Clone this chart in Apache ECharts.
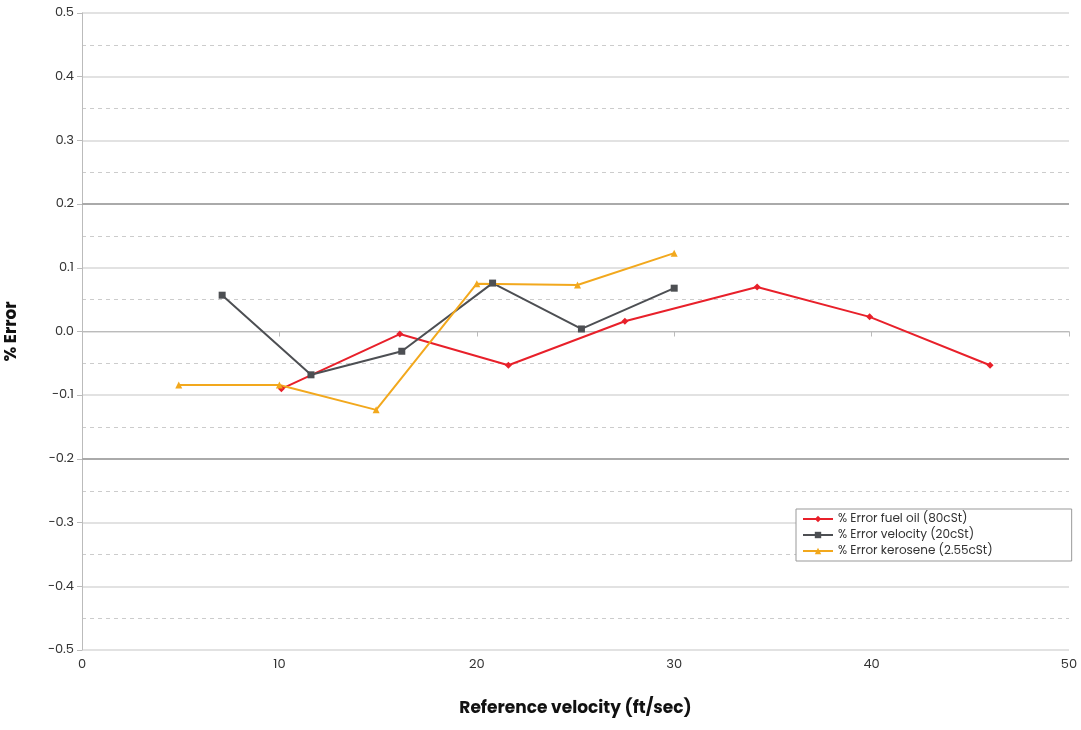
<!DOCTYPE html><html><head><meta charset="utf-8"><script src="https://cdn.jsdelivr.net/npm/echarts@6/dist/echarts.min.js"></script>
<style>html,body{margin:0;background:#fff}#c{width:1081px;height:730px}</style></head><body><div id="c"></div><script>
const fuelOil=[[10.1,-0.09],[16.1,-0.004],[21.6,-0.053],[27.5,0.016],[34.2,0.07],[39.9,0.023],[46.0,-0.053]];
const velocity20=[[7.1,0.057],[11.6,-0.068],[16.2,-0.031],[20.8,0.076],[25.3,0.004],[30.0,0.068]];
const kerosene=[[4.9,-0.084],[10.0,-0.084],[14.9,-0.123],[20.0,0.075],[25.1,0.073],[30.0,0.123]];
const names=['% Error fuel oil (80cSt)','% Error velocity (20cSt)','% Error kerosene (2.55cSt)'];
const F='Poppins, Inter, "Noto Sans", sans-serif';
const fmt=v=>{const s=v.toFixed(1);return s.startsWith('-')?'\u2212'+s.slice(1):s;};
const ch=echarts.init(document.getElementById('c'));
ch.setOption({
 animation:false,
 grid:{left:82,right:12,top:13,bottom:80,containLabel:false,outerBoundsMode:'none'},
 legend:{orient:'vertical',left:796,top:509,itemWidth:30,itemHeight:8,itemGap:4,padding:[4,79,4,6],
   borderColor:'#999',borderWidth:1,backgroundColor:'#fff',
   textStyle:{fontFamily:F,fontSize:12,color:'#333'},data:names},
 xAxis:{type:'value',min:0,max:50,interval:10,name:'Reference velocity (ft/sec)',nameLocation:'middle',nameGap:50,
   nameTextStyle:{fontFamily:F,fontSize:17,fontWeight:'bold',color:'#111'},
   axisLine:{show:true,lineStyle:{color:'#bbb'}},axisTick:{show:true,length:5,lineStyle:{color:'#bbb'}},
   axisLabel:{fontFamily:F,fontSize:13,color:'#333'},splitLine:{show:false}},
 yAxis:{type:'value',min:-0.5,max:0.5,interval:0.1,name:'% Error',nameLocation:'middle',nameGap:62,
   nameTextStyle:{fontFamily:F,fontSize:17,fontWeight:'bold',color:'#111'},
   axisLine:{show:true,lineStyle:{color:'#bbb'}},axisTick:{show:true,length:5,lineStyle:{color:'#bbb'}},
   axisLabel:{fontFamily:F,fontSize:13,color:'#333',formatter:fmt},
   splitLine:{lineStyle:{color:'#d9d9d9',width:1.5}},
   minorTick:{show:false,splitNumber:2},minorSplitLine:{show:true,lineStyle:{color:'#ccc',type:[4,4]}}},
 series:[
  {name:names[0],type:'line',data:fuelOil,symbol:'diamond',symbolSize:7,color:'#e8202a',lineStyle:{width:2},
   markLine:{silent:true,symbol:'none',label:{show:false},lineStyle:{color:'#aaa',type:'solid',width:2},data:[{yAxis:0.2},{yAxis:-0.2}]}},
  {name:names[1],type:'line',data:velocity20,symbol:'rect',symbolSize:7,color:'#4d4f53',lineStyle:{width:2}},
  {name:names[2],type:'line',data:kerosene,symbol:'triangle',symbolSize:7,color:'#f2a81d',lineStyle:{width:2}}
 ]});
</script></body></html>
